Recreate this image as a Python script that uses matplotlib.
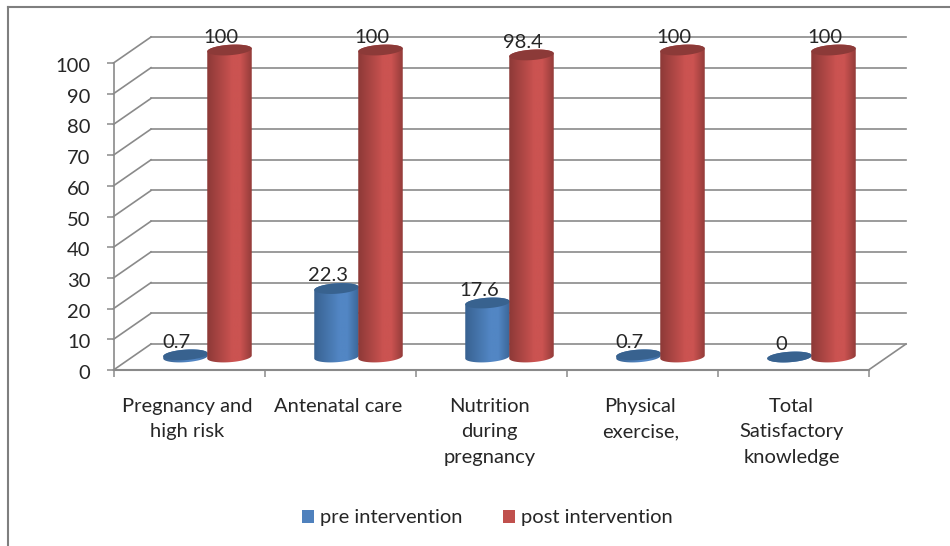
import numpy as np
from matplotlib import pyplot as plt
from matplotlib.lines import Line2D
from matplotlib.patches import PathPatch, Patch
from matplotlib.path import Path
from matplotlib.colors import LinearSegmentedColormap
from matplotlib.transforms import ScaledTranslation

categories = ['Pregnancy and\nhigh risk', 'Antenatal care', 'Nutrition\nduring\npregnancy',
              'Physical\nexercise,', 'Total\nSatisfactory\nknowledge']
pre_values = [0.7, 22.3, 17.6, 0.7, 0]
post_values = [100, 100, 98.4, 100, 100]
y_ticks = list(range(0, 101, 10))
series_names = ['pre intervention', 'post intervention']

plt.rcParams['font.family'] = ['Lato', 'DejaVu Sans']
GRID = '#8a8a8a'
TEXT = '#262626'
FONT = 14.5

W, H = 950, 546
fig = plt.figure(figsize=(W / 100, H / 100), dpi=100, facecolor='white')
ax = fig.add_axes([113.5 / W, 1 - 370 / H, 755 / W, 307 / H])
ax.set_xlim(0, 5)
ax.set_ylim(0, 100)
ax.patch.set_visible(False)

# pixel sizes of one axis unit, used for the oblique depth and the ellipses
px_x = 755 / 5
px_y = 307 / 100
depth_x = 37.5 / px_x
depth_y = 26 / px_y


def cylinder_path(cx, base, top, half_w, half_h, tilt):
    # outline of an upright cylinder, in data units
    t = np.linspace(0, np.pi, 40)
    c, s = np.cos(tilt), np.sin(tilt)

    def ring(angles, level):
        ex = half_w * np.cos(angles)
        ey = half_h * np.sin(angles)
        return np.column_stack([cx + (ex * c - ey * s) / px_x,
                                level + (ex * s + ey * c) / px_y])

    upper = ring(t, top)
    lower = ring(t + np.pi, base)
    return np.vstack([upper, lower, upper[:1]])


def cap_path(cx, level, half_w, half_h, tilt):
    t = np.linspace(0, 2 * np.pi, 80)
    c, s = np.cos(tilt), np.sin(tilt)
    ex = half_w * np.cos(t)
    ey = half_h * np.sin(t)
    return np.column_stack([cx + (ex * c - ey * s) / px_x,
                            level + (ex * s + ey * c) / px_y])


def draw_cylinder(cx, value, dark, mid, cap, zorder):
    half_w, half_h, tilt = 22.3, 5.2, np.radians(4)
    base = depth_y / 2
    top = base + value
    verts = cylinder_path(cx, base, top, half_w, half_h, tilt)
    body = PathPatch(Path(verts), fc='none', ec='none', zorder=zorder, clip_on=False)
    ax.add_patch(body)
    cmap = LinearSegmentedColormap.from_list('shade', [(0, dark), (0.55, mid), (0.72, mid), (1, dark)])
    im = ax.imshow(np.linspace(0, 1, 128)[None, :], cmap=cmap, aspect='auto', zorder=zorder,
                   extent=[cx - half_w / px_x - 0.01, cx + half_w / px_x + 0.01, base - 3, top + 3])
    # images stop at the axes box unless given a wider clip box
    im.set_clip_box(fig.bbox)
    im.set_clip_path(body)
    ax.add_patch(PathPatch(Path(cap_path(cx, top, half_w, half_h, tilt)), fc=cap, ec='none',
                           zorder=zorder + 0.1, clip_on=False))
    return top


# back wall, side wall and floor
for v in y_ticks:
    ax.plot([depth_x, 5 + depth_x], [v + depth_y, v + depth_y], color=GRID, lw=1.2, clip_on=False, zorder=1)
    ax.plot([0, depth_x], [v, v + depth_y], color=GRID, lw=1.2, clip_on=False, zorder=1)
ax.plot([5, 5 + depth_x], [0, depth_y], color=GRID, lw=1.2, clip_on=False, zorder=1)
ax.plot([0, 5], [0, 0], color=GRID, lw=1.5, clip_on=False, zorder=1)
ax.plot([0, 0], [0, 100], color=GRID, lw=1.2, clip_on=False, zorder=1)

for i in range(5):
    x_pre = i + 0.5 + (185 - 188.5) / px_x
    x_post = i + 0.5 + (229 - 188.5) / px_x
    top_pre = draw_cylinder(x_pre, pre_values[i], '#37608f', '#5286c4', '#38628f', 3 + i * 0.01)
    top_post = draw_cylinder(x_post, post_values[i], '#8a3836', '#cb5351', '#8c3a38', 4 + i * 0.01)
    for x, top, val in [(x_pre, top_pre, pre_values[i]), (x_post, top_post, post_values[i])]:
        ax.annotate(f'{val:g}', (x, top), xytext=(-6.3, 9.1), textcoords='offset points',
                    ha='center', va='center', fontsize=FONT, color=TEXT, annotation_clip=False, zorder=6)

ax.set_xlim(0, 5)
ax.set_ylim(0, 100)
for side in ax.spines.values():
    side.set_visible(False)

ax.set_yticks(y_ticks)
ax.tick_params(axis='y', length=5, width=1.1, color=GRID, labelsize=FONT, labelcolor=TEXT, pad=11.5)
nudge = ScaledTranslation(0, -1.5 / 72, fig.dpi_scale_trans)
for label in ax.get_yticklabels():
    label.set_transform(label.get_transform() + nudge)
ax.set_xticks(range(6))
ax.set_xticklabels([])
ax.tick_params(axis='x', which='major', length=5, width=1.1, color=GRID)
ax.set_xticks(np.arange(5) + 0.49, minor=True)
ax.set_xticklabels(categories, minor=True, fontsize=FONT, color=TEXT, linespacing=1.62)
ax.tick_params(axis='x', which='minor', length=0, pad=20)

handles = [Patch(fc='#4f81bd', label=series_names[0]), Patch(fc='#c0504d', label=series_names[1])]
fig.legend(handles=handles, loc='center', bbox_to_anchor=(487 / W, 1 - 518 / H), ncol=2, frameon=False,
           fontsize=FONT, labelcolor=TEXT, handlelength=0.6, handleheight=0.6, handletextpad=0.3,
           columnspacing=2.0)

# outer frame only shows on the top and left
fig.add_artist(Line2D([8 / W, 1], [1 - 7 / H, 1 - 7 / H], color='#7f7f7f', lw=1.5))
fig.add_artist(Line2D([8 / W, 8 / W], [0, 1 - 7 / H], color='#7f7f7f', lw=1.5))

fig.savefig('out.png', dpi=100)
